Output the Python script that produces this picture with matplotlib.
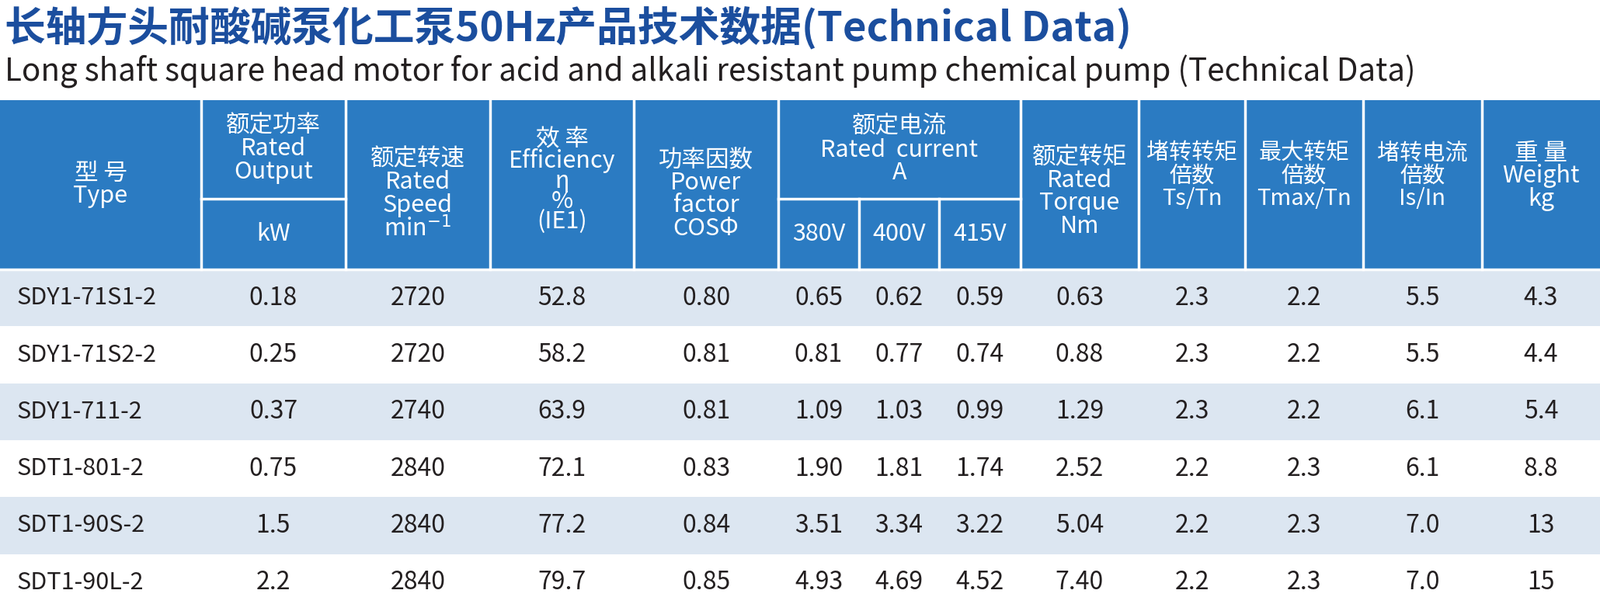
import matplotlib.pyplot as plt
from matplotlib.patches import Rectangle

FONT = ["Noto Sans CJK SC", "Noto Sans CJK JP", "Noto Sans CJK TC", "DejaVu Sans"]
plt.rcParams["font.family"] = FONT

title = "长轴方头耐酸碱泵化工泵50Hz产品技术数据(Technical Data)"
subtitle = "Long shaft square head motor for acid and alkali resistant pump chemical pump (Technical Data)"

models = ["SDY1-71S1-2", "SDY1-71S2-2", "SDY1-711-2", "SDT1-801-2", "SDT1-90S-2", "SDT1-90L-2"]
output_kw = ["0.18", "0.25", "0.37", "0.75", "1.5", "2.2"]
speed = ["2720", "2720", "2740", "2840", "2840", "2840"]
efficiency = ["52.8", "58.2", "63.9", "72.1", "77.2", "79.7"]
power_factor = ["0.80", "0.81", "0.81", "0.83", "0.84", "0.85"]
current_380 = ["0.65", "0.81", "1.09", "1.90", "3.51", "4.93"]
current_400 = ["0.62", "0.77", "1.03", "1.81", "3.34", "4.69"]
current_415 = ["0.59", "0.74", "0.99", "1.74", "3.22", "4.52"]
torque = ["0.63", "0.88", "1.29", "2.52", "5.04", "7.40"]
ts_tn = ["2.3", "2.3", "2.3", "2.2", "2.2", "2.2"]
tmax_tn = ["2.2", "2.2", "2.2", "2.3", "2.3", "2.3"]
is_in = ["5.5", "5.5", "6.1", "6.1", "7.0", "7.0"]
weight = ["4.3", "4.4", "5.4", "8.8", "13", "15"]

columns = [models, output_kw, speed, efficiency, power_factor, current_380,
           current_400, current_415, torque, ts_tn, tmax_tn, is_in, weight]

# column edges in pixels
xs = [0, 259, 445, 631, 816, 1002, 1106, 1209, 1314, 1466, 1603, 1755, 1908, 2060]
head_top, head_mid, head_bot = 129, 256, 347
row_h = (787 - head_bot) / 6

BLUE = "#2b7bc2"
LIGHT = "#dce6f1"
TITLE_C = "#1b4e9e"

fig = plt.figure(figsize=(20.6, 7.87), dpi=100)
ax = fig.add_axes([0, 0, 1, 1])
ax.set_xlim(0, 2060)
ax.set_ylim(787, 0)
ax.axis("off")

ax.text(6, 36, title, fontsize=38, fontweight="bold", color=TITLE_C,
        va="center", ha="left")
ax.text(6, 92, subtitle, fontsize=29, color="#231f20",
        va="center", ha="left")

# header background
ax.add_patch(Rectangle((0, head_top), 2060, head_bot - head_top, color=BLUE, lw=0))

# header cell borders (white)
def wline(x0, y0, x1, y1):
    ax.plot([x0, x1], [y0, y1], color="white", lw=2.5)

for i, x in enumerate(xs[1:-1], start=1):
    if i in (6, 7):
        wline(x, head_mid, x, head_bot)
    else:
        wline(x, head_top, x, head_bot)
wline(xs[1], head_mid, xs[2], head_mid)
wline(xs[5], head_mid, xs[8], head_mid)
wline(0, head_bot, 2060, head_bot)

def htext(cx, cy, s, size=22, ls=0.95):
    ax.text(cx, cy, s, color="white", fontsize=size,
            ha="center", va="center", linespacing=ls)

def mid(i, j):
    return (xs[i] + xs[j]) / 2

htext(mid(0, 1), 238, "型 号\nType")
htext(mid(1, 2), 192, "额定功率\nRated\nOutput")
htext(mid(1, 2), 302, "kW")
htext(mid(2, 3), 250, "额定转速\nRated\nSpeed\nmin$^{-1}$")
htext(mid(3, 4), 233, "效 率\nEfficiency\nη\n%\n(IE1)", ls=0.8)
htext(mid(4, 5), 250, "功率因数\nPower\nfactor\nCOSΦ")
htext(mid(5, 8), 193, "额定电流\nRated  current\nA")
for i, v in enumerate(["380V", "400V", "415V"]):
    htext(mid(5 + i, 6 + i), 302, v)
htext(mid(8, 9), 247, "额定转矩\nRated\nTorque\nNm")
htext(mid(9, 10), 227, "堵转转矩\n倍数\nTs/Tn", size=21)
htext(mid(10, 11), 227, "最大转矩\n倍数\nTmax/Tn", size=21)
htext(mid(11, 12), 227, "堵转电流\n倍数\nIs/In", size=21)
htext(mid(12, 13), 227, "重 量\nWeight\nkg")

# body rows
for r in range(6):
    y0 = head_bot + r * row_h
    if r % 2 == 0:
        ax.add_patch(Rectangle((0, y0), 2060, row_h, color=LIGHT, lw=0))
    for c, col in enumerate(columns):
        if c == 0:
            ax.text(22, y0 + row_h / 2, col[r], fontsize=22,
                    color="#231f20", ha="left", va="center")
        else:
            ax.text(mid(c, c + 1), y0 + row_h / 2, col[r], fontsize=23,
                    color="#231f20", ha="center", va="center")

fig.savefig("out.png", dpi=100)
